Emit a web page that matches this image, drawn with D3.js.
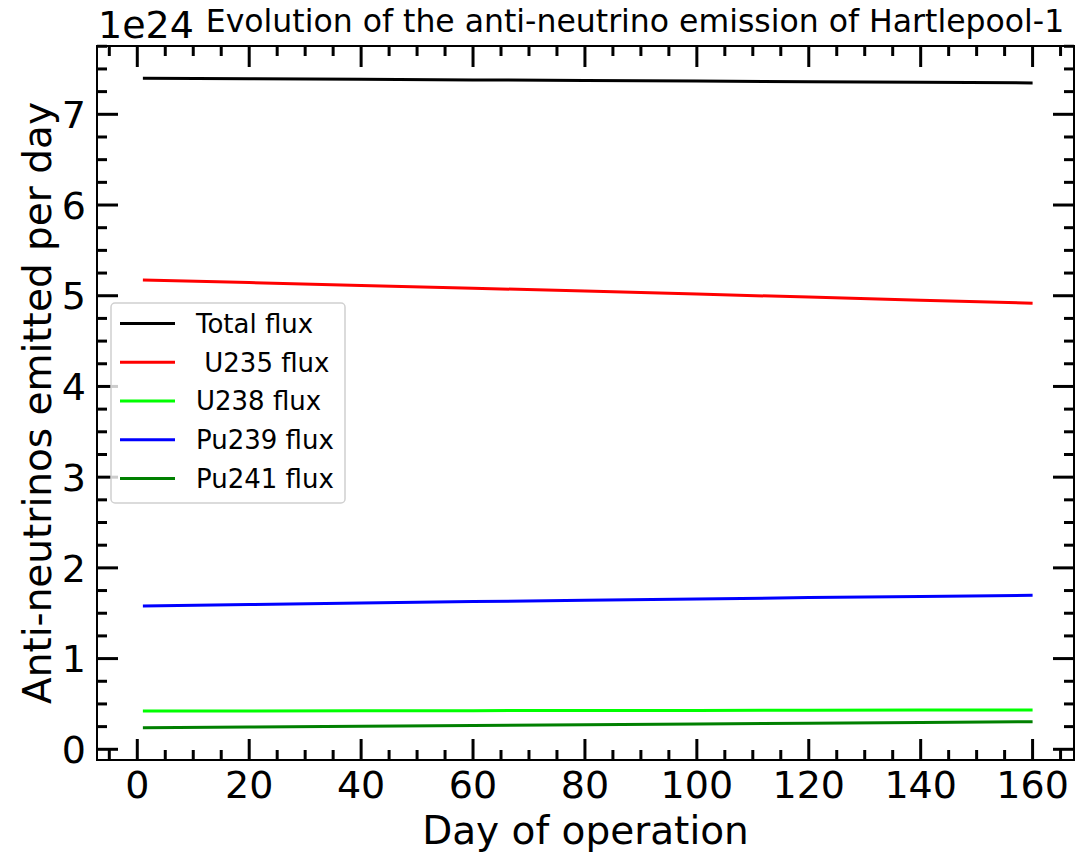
<!DOCTYPE html>
<html>
<head>
<meta charset="utf-8">
<script src="https://cdn.jsdelivr.net/npm/d3@7"></script>
<style>
  html, body { margin: 0; padding: 0; background: #fff; }
  svg { display: block; font-family: "DejaVu Sans", sans-serif; }
</style>
</head>
<body>
<svg id="chart" width="1076" height="856"></svg>
<script>
// Anti-neutrino emission of Hartlepool-1 over the operating cycle (values in units of 1e24 / day)

const days = [1, 20, 40, 60, 80, 100, 120, 140, 160];
const totalFlux = [7.398, 7.392, 7.386, 7.379, 7.373, 7.366, 7.359, 7.353, 7.346];
const u235Flux = [5.174, 5.145, 5.114, 5.083, 5.051, 5.018, 4.985, 4.951, 4.917];
const u238Flux = [0.422, 0.423, 0.425, 0.426, 0.427, 0.429, 0.430, 0.432, 0.433];
const pu239Flux = [1.580, 1.596, 1.612, 1.628, 1.643, 1.657, 1.672, 1.685, 1.698];
const pu241Flux = [0.238, 0.246, 0.254, 0.263, 0.271, 0.280, 0.288, 0.296, 0.304];

const seriesNames = ["Total flux", " U235 flux", "U238 flux", "Pu239 flux", "Pu241 flux"];
const seriesColors = ["#000000", "#ff0000", "#00ff00", "#0000ff", "#008000"];
const seriesValues = [totalFlux, u235Flux, u238Flux, pu239Flux, pu241Flux];

const xMajorTicks = [0, 20, 40, 60, 80, 100, 120, 140, 160];
const yMajorTicks = [0, 1, 2, 3, 4, 5, 6, 7];

const svg = d3.select("#chart");

// axes box in page pixels
const box = { left: 97, right: 1074, top: 46, bottom: 760 };

// matplotlib-like padded limits
const x = d3.scaleLinear().domain([-7.2, 167.4]).range([box.left, box.right]);
const y = d3.scaleLinear().domain([-0.118, 7.753]).range([box.bottom, box.top]);

const xMinor = d3.range(-5, 167, 5).filter((v) => v % 20 !== 0);
const yMinor = d3.range(0, 7.76, 0.25).filter((v) => Math.abs(v - Math.round(v)) > 1e-6);

const MAJOR = 21, MINOR = 10, TICK_W = 3;

// Inward ticks on all four sides
const ticks = svg.append("g").attr("stroke", "#000").attr("stroke-width", TICK_W);
function xTicks(vals, len) {
  vals.forEach((v) => {
    ticks.append("line").attr("x1", x(v)).attr("x2", x(v))
      .attr("y1", box.bottom).attr("y2", box.bottom - len);
    ticks.append("line").attr("x1", x(v)).attr("x2", x(v))
      .attr("y1", box.top).attr("y2", box.top + len);
  });
}
function yTicks(vals, len) {
  vals.forEach((v) => {
    ticks.append("line").attr("y1", y(v)).attr("y2", y(v))
      .attr("x1", box.left).attr("x2", box.left + len);
    ticks.append("line").attr("y1", y(v)).attr("y2", y(v))
      .attr("x1", box.right).attr("x2", box.right - len);
  });
}
xTicks(xMajorTicks, MAJOR);
xTicks(xMinor, MINOR);
yTicks(yMajorTicks, MAJOR);
yTicks(yMinor, MINOR);

// Series lines
const line = d3.line().x((d) => x(d[0])).y((d) => y(d[1]));
seriesValues.forEach((vals, i) => {
  svg.append("path")
    .datum(days.map((dd, j) => [dd, vals[j]]))
    .attr("d", line)
    .attr("fill", "none")
    .attr("stroke", seriesColors[i])
    .attr("stroke-width", 3);
});

// Frame
svg.append("rect")
  .attr("x", box.left).attr("y", box.top)
  .attr("width", box.right - box.left).attr("height", box.bottom - box.top)
  .attr("fill", "none").attr("stroke", "#000").attr("stroke-width", 2);

// Tick labels
svg.append("g").selectAll("text").data(xMajorTicks).join("text")
  .attr("x", (d) => x(d)).attr("y", 798)
  .attr("text-anchor", "middle").style("font-size", "38px")
  .text((d) => d);

svg.append("g").selectAll("text").data(yMajorTicks).join("text")
  .attr("x", 86).attr("y", (d) => y(d)).attr("dy", "0.36em")
  .attr("text-anchor", "end").style("font-size", "38px")
  .text((d) => d);

// Offset text, title, axis labels
svg.append("text").attr("x", 98).attr("y", 38).style("font-size", "38px").text("1e24");

svg.append("text").attr("x", 635).attr("y", 32)
  .attr("text-anchor", "middle").style("font-size", "31.5px")
  .text("Evolution of the anti-neutrino emission of Hartlepool-1");

svg.append("text").attr("x", (box.left + box.right) / 2).attr("y", 844)
  .attr("text-anchor", "middle").style("font-size", "39px")
  .text("Day of operation");

svg.append("text")
  .attr("transform", `translate(51,${(box.top + box.bottom) / 2}) rotate(-90)`)
  .attr("text-anchor", "middle").style("font-size", "39px")
  .text("Anti-neutrinos emitted per day");

// Legend (semi-transparent white, rounded frame)
const legend = svg.append("g").attr("transform", "translate(111,303)");
legend.append("rect")
  .attr("width", 234).attr("height", 200).attr("rx", 4)
  .attr("fill", "rgba(255,255,255,0.8)")
  .attr("stroke", "#d0d0d0").attr("stroke-width", 1.5);

seriesNames.forEach((name, i) => {
  const ly = 20.5 + i * 38.75;
  legend.append("line")
    .attr("x1", 9).attr("x2", 64).attr("y1", ly).attr("y2", ly)
    .attr("stroke", seriesColors[i]).attr("stroke-width", 3);
  legend.append("text")
    .attr("x", 85).attr("y", ly).attr("dy", "0.36em")
    .style("font-size", "26px").style("white-space", "pre")
    .attr("xml:space", "preserve")
    .text(name);
});
</script>
</body>
</html>
